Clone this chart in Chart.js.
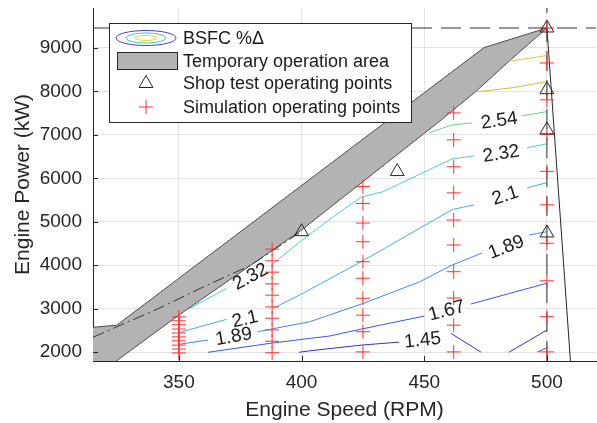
<!DOCTYPE html>
<html>
<head>
<meta charset="utf-8">
<script src="https://cdn.jsdelivr.net/npm/chart.js@4.4.0/dist/chart.umd.min.js"></script>
<style>
  html, body { margin: 0; padding: 0; background: #fff; }
</style>
</head>
<body>
<canvas id="bsfcChart" width="597" height="423"></canvas>
<script>
// axes
const xTicks = [350, 400, 450, 500];
const yTicks = [2000, 3000, 4000, 5000, 6000, 7000, 8000, 9000];
const xRange = [315, 520];
const yRange = [1795, 9920];

// simulation operating points (kW), one column per engine speed
const simSpeeds = [350, 388, 425, 462, 500];
const simPower350 = [1980, 2070, 2160, 2260, 2350, 2440, 2530, 2630, 2720, 2810];
const simPower388 = [1985, 2250, 2510, 2780, 3040, 3310, 3570, 3840, 4100, 4370];
const simPower425 = [2005, 2470, 2850, 3240, 3700, 4080, 4540, 4970, 5420, 5810];
const simPower462 = [2005, 2620, 3245, 3850, 4465, 5040, 5665, 6265, 6885, 7505];
const simPower500 = [2005, 2815, 3640, 4505, 5390, 6160, 7010, 7805, 8655, 9460];

// shop test points
const shopSpeed = [400, 439, 500, 500, 500, 500];
const shopPower = [4772, 6155, 9460, 8040, 7115, 4742];

// limit lines
const maxPower = 9460;
const maxSpeed = 500;
const limitSpeed = [500, 509.7];
const limitPower = [9460, 1700];
const propSpeed = [315, 325, 342, 360, 379, 399];
const propPower = [2340, 2590, 3010, 3500, 3990, 4740];

// temporary operation area outline (upper edge then lower edge back)
const bandSpeed = [311, 324.7, 474.4, 500, 485.2, 471, 456.1, 400, 350, 321, 311];
const bandPower = [2550, 2620, 9010, 9460, 8728, 7998, 7306, 4811, 2853, 1650, 1650];

// BSFC %delta contours, each level is a list of line pieces [rpm, kW]
const contour298 = [[[485.4, 8705], [500, 8825]]];
const contour276 = [[[471.5, 7991], [485.8, 8083], [500, 8225]]];
const contour254 = [[[452, 7046], [461.4, 7230], [469.5, 7276]], [[489.8, 7438], [500, 7535]]];
const contour232 = [[[354.5, 3007], [369.4, 3468]],
  [[387.7, 4005], [399.2, 4535], [412.2, 5088], [424.4, 5571], [432.9, 5687], [461.4, 6447], [470.3, 6516]],
  [[491.9, 6700], [500, 6795]]];
const contour210 = [[[349.7, 2445], [369.4, 2753]],
  [[388.3, 3007], [399.2, 3313], [424.3, 4080], [461.5, 5283], [470.3, 5387]],
  [[491.9, 5779], [500, 5900]]];
const contour189 = [[[349.7, 2177], [361.9, 2276]],
  [[382.2, 2468], [387, 2523], [403.3, 2698], [424.4, 3106], [448, 3613], [461.4, 4005], [473.6, 4281]],
  [[492.7, 4696], [500, 4770]]];
const contour167 = [[[361.9, 1995], [387, 2200], [403.3, 2316], [411.4, 2369], [424.4, 2530], [450, 2829]],
  [[469, 3106], [500, 3585]],
  [[496, 2000], [500, 2100]]];
const contour145 = [[[398.9, 1995], [403.3, 2030], [424.4, 2161], [439.8, 2230]],
  [[460.9, 2430], [473.1, 2000]],
  [[484.6, 2000], [500, 2507]]];

const contours = [contour298, contour276, contour254, contour232, contour210, contour189, contour167, contour145];
const contourColors = ['#f2bf3a', '#cdbf2e', '#73cf86', '#4fcfc9', '#45aaee', '#3f86ee', '#3a55e8', '#3a2fc4'];

// inline contour labels
const labelText = ['2.54', '2.32', '2.1', '1.89', '1.67', '1.45', '2.32', '2.1', '1.89'];
const labelSpeed = [480.5, 481.3, 482.9, 483.3, 459.1, 449.3, 379, 376.9, 372.3];
const labelPower = [7342, 6583, 5616, 4431, 2969, 2290, 3751, 2773, 2370];
const labelAngle = [-8, -9, -18, -21, -15, -6, -28, -13, -10];

const legendLabels = ['BSFC %\u0394', 'Temporary operation area', 'Shop test operating points', 'Simulation operating points'];

const FONT = "'Liberation Sans', Arial, Helvetica, sans-serif";
const INK = '#262626';

function pts(xs, ys) {
    return xs.map((x, i) => ({ x: x, y: ys[i] }));
}

function lineSet(data, color, width, dash) {
    return {
        data: data,
        showLine: true,
        pointRadius: 0,
        borderColor: color,
        borderWidth: width,
        borderDash: dash || [],
        fill: false,
        tension: 0
    };
}

// keep the plot box fixed, no extra room for half labels
function noPadding(s) {
    s.paddingTop = 0;
    s.paddingBottom = 0;
    s.paddingLeft = 0;
    s.paddingRight = 0;
}

const simPoints = [];
[simPower350, simPower388, simPower425, simPower462, simPower500].forEach((col, i) => {
    col.forEach(p => simPoints.push({ x: simSpeeds[i], y: p }));
});

const datasets = [];
datasets.push({
    data: pts(shopSpeed, shopPower),
    pointStyle: 'triangle',
    pointRadius: 8,
    borderColor: INK,
    backgroundColor: 'rgba(0,0,0,0)',
    borderWidth: 1
});
datasets.push({
    data: simPoints,
    pointStyle: 'cross',
    pointRadius: 7,
    borderColor: '#ff3030',
    borderWidth: 1
});
datasets.push(lineSet(pts(limitSpeed, limitPower), INK, 1));
datasets.push(lineSet([{ x: xRange[0], y: maxPower }, { x: xRange[1], y: maxPower }], '#333', 1, [20, 9]));
datasets.push(lineSet([{ x: maxSpeed, y: yRange[0] }, { x: maxSpeed, y: yRange[1] }], '#333', 1, [20, 9]));
datasets.push(lineSet(pts(propSpeed, propPower), '#333', 1, [12, 4, 2, 4]));
datasets.push({
    data: pts(bandSpeed, bandPower),
    showLine: true,
    pointRadius: 0,
    borderColor: '#4d4d4d',
    borderWidth: 1,
    backgroundColor: '#b3b3b3',
    fill: 'shape',
    tension: 0
});
contours.forEach((level, i) => {
    level.forEach(piece => {
        datasets.push(lineSet(piece.map(p => ({ x: p[0], y: p[1] })), contourColors[i], 1));
    });
});

// contour labels along the lines
const contourLabelPlugin = {
    id: 'contourLabels',
    afterDatasetsDraw(chart) {
        const ctx = chart.ctx;
        const xs = chart.scales.x, ys = chart.scales.y;
        ctx.save();
        ctx.font = '19px ' + FONT;
        ctx.fillStyle = '#1a1a1a';
        ctx.textAlign = 'center';
        ctx.textBaseline = 'middle';
        labelText.forEach((t, i) => {
            ctx.save();
            ctx.translate(xs.getPixelForValue(labelSpeed[i]), ys.getPixelForValue(labelPower[i]));
            ctx.rotate(labelAngle[i] * Math.PI / 180);
            ctx.fillText(t, 0, 1);
            ctx.restore();
        });
        ctx.restore();
    }
};

// inward tick marks like the original axes
const tickMarkPlugin = {
    id: 'innerTicks',
    afterDraw(chart) {
        const ctx = chart.ctx;
        const area = chart.chartArea;
        const xs = chart.scales.x, ys = chart.scales.y;
        ctx.save();
        ctx.strokeStyle = INK;
        ctx.lineWidth = 1;
        ctx.beginPath();
        xTicks.forEach(v => {
            const px = Math.round(xs.getPixelForValue(v)) + 0.5;
            ctx.moveTo(px, area.bottom);
            ctx.lineTo(px, area.bottom - 5);
        });
        yTicks.forEach(v => {
            const py = Math.round(ys.getPixelForValue(v)) + 0.5;
            ctx.moveTo(area.left, py);
            ctx.lineTo(area.left + 5, py);
        });
        ctx.stroke();
        ctx.restore();
    }
};

// legend box drawn by hand (contour icon is not a chart.js point style)
const legendPlugin = {
    id: 'boxLegend',
    afterDraw(chart) {
        const ctx = chart.ctx;
        const rowY = [38, 61, 83.5, 107];
        const iconX = 146;
        ctx.save();
        ctx.fillStyle = '#fff';
        ctx.strokeStyle = INK;
        ctx.lineWidth = 1;
        ctx.fillRect(109.5, 23.5, 302, 99);
        ctx.strokeRect(109.5, 23.5, 302, 99);

        // contour icon
        [[30, 7.5, '#4b3ec6'], [20, 5, '#3cc6c6'], [11, 2.5, '#e8dc1c']].forEach(e => {
            ctx.beginPath();
            ctx.strokeStyle = e[2];
            ctx.ellipse(iconX, rowY[0], e[0], e[1], 0, 0, Math.PI * 2);
            ctx.stroke();
        });

        // area icon
        ctx.fillStyle = '#b3b3b3';
        ctx.strokeStyle = INK;
        ctx.fillRect(117.5, 52.5, 60, 17);
        ctx.strokeRect(117.5, 52.5, 60, 17);

        // triangle icon
        const r = 8;
        ctx.beginPath();
        ctx.moveTo(iconX, rowY[2] - r);
        ctx.lineTo(iconX + r * Math.sin(2 * Math.PI / 3), rowY[2] - r * Math.cos(2 * Math.PI / 3));
        ctx.lineTo(iconX + r * Math.sin(4 * Math.PI / 3), rowY[2] - r * Math.cos(4 * Math.PI / 3));
        ctx.closePath();
        ctx.stroke();

        // cross icon
        ctx.strokeStyle = '#ff3030';
        ctx.beginPath();
        ctx.moveTo(iconX - 7, rowY[3]);
        ctx.lineTo(iconX + 7, rowY[3]);
        ctx.moveTo(iconX, rowY[3] - 7);
        ctx.lineTo(iconX, rowY[3] + 7);
        ctx.stroke();

        ctx.fillStyle = '#1a1a1a';
        ctx.font = '18px ' + FONT;
        ctx.textAlign = 'left';
        ctx.textBaseline = 'middle';
        legendLabels.forEach((t, i) => ctx.fillText(t, 183, rowY[i] + 1));
        ctx.restore();
    }
};

const ctx = document.getElementById('bsfcChart').getContext('2d');
const chart = new Chart(ctx, {
    type: 'scatter',
    data: { datasets: datasets },
    options: {
        responsive: false,
        animation: false,
        events: [],
        layout: { autoPadding: false, padding: { left: 0, top: 8, right: 1, bottom: 0 } },
        plugins: {
            legend: { display: false },
            tooltip: { enabled: false }
        },
        scales: {
            x: {
                type: 'linear',
                min: xRange[0],
                max: xRange[1],
                afterBuildTicks: s => { s.ticks = xTicks.map(v => ({ value: v })); },
                afterFit: s => { s.height = 62; noPadding(s); },
                grid: { color: '#e3e3e3', drawTicks: false },
                border: { display: true, color: INK, width: 1 },
                ticks: { color: INK, padding: 10, maxRotation: 0, callback: v => String(v), font: { family: FONT, size: 19 } },
                title: { display: true, text: 'Engine Speed (RPM)', color: INK, padding: { top: 0, bottom: 0 }, font: { family: FONT, size: 21 } }
            },
            y: {
                type: 'linear',
                min: yRange[0],
                max: yRange[1],
                afterBuildTicks: s => { s.ticks = yTicks.map(v => ({ value: v })); },
                afterFit: s => { s.width = 93; noPadding(s); },
                grid: { color: '#e3e3e3', drawTicks: false },
                border: { display: true, color: INK, width: 1 },
                ticks: { color: INK, padding: 11, callback: v => String(v), font: { family: FONT, size: 19 } },
                title: { display: true, text: 'Engine Power (kW)', color: INK, padding: { top: 11, bottom: 0 }, font: { family: FONT, size: 21 } }
            }
        }
    },
    plugins: [contourLabelPlugin, tickMarkPlugin, legendPlugin]
});
</script>
</body>
</html>
